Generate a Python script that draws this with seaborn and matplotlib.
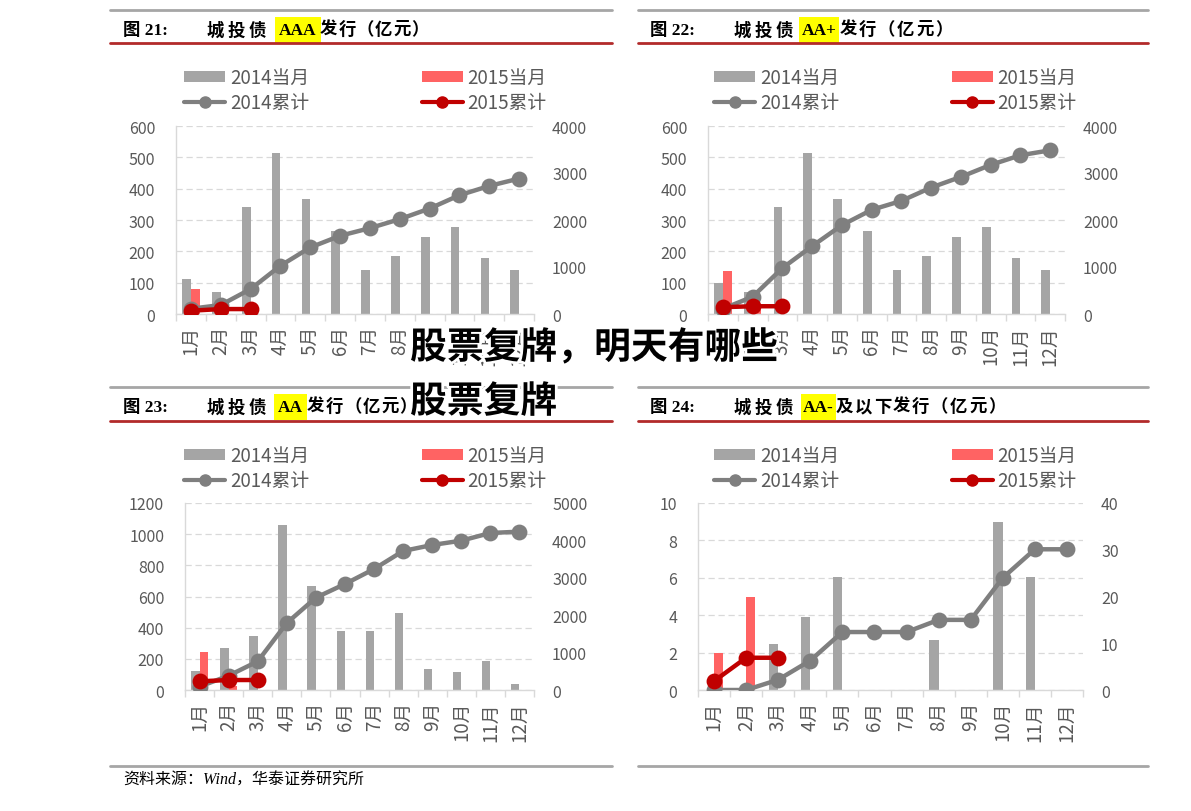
import numpy as np
import pandas as pd
import matplotlib
matplotlib.use("Agg")
import matplotlib.pyplot as plt
import seaborn as sns
from matplotlib.patches import Patch, Rectangle
from matplotlib.lines import Line2D
import matplotlib.patheffects as pe

# ---------------- data ----------------
months = ["1月", "2月", "3月", "4月", "5月", "6月", "7月", "8月", "9月", "10月", "11月", "12月"]
years = ["2014", "2015"]

aaa_2014_month = [112, 69, 342, 513, 366, 264, 140, 184, 246, 279, 178, 140]
aaa_2015_month = [79, 30, 0]
aaa_2014_cum = [112, 191, 531, 1027, 1416, 1664, 1827, 2018, 2244, 2527, 2725, 2881]
aaa_2015_cum = [70, 105, 105]

aap_2014_month = [98, 69, 342, 513, 366, 264, 140, 184, 246, 279, 178, 140]
aap_2015_month = [136, 22, 0]
aap_2014_cum = [110, 368, 977, 1444, 1890, 2216, 2407, 2690, 2917, 3172, 3377, 3483]
aap_2015_cum = [145, 165, 165]

aa_2014_month = [124, 270, 347, 1061, 665, 376, 376, 492, 135, 118, 184, 38]
aa_2015_month = [242, 28, 0]
aa_2014_cum = [90, 383, 766, 1791, 2469, 2834, 3235, 3717, 3877, 3993, 4198, 4234]
aa_2015_cum = [232, 267, 267]

aam_2014_month = [0, 0, 2.44, 3.88, 6.03, 0, 0, 2.69, 0, 9.0, 6.03, 0]
aam_2015_month = [1.96, 5.0, 0]
aam_2014_cum = [0, 0, 2.2, 6.3, 12.4, 12.4, 12.4, 15.0, 15.0, 24.0, 30.1, 30.1]
aam_2015_cum = [1.9, 6.9, 6.9]

legend_labels = ["2014当月", "2014累计", "2015当月", "2015累计"]

# ---------------- style ----------------
W, H = 1191, 812
GREY_BAR = "#A5A5A5"
RED_BAR = "#FF6363"
GREY_LINE = "#7F7F7F"
RED_LINE = "#C00000"
TXT = "#595959"
GRID = "#D9D9D9"

sns.set_theme(style="white")
plt.rcParams["font.family"] = ["Noto Sans CJK SC", "DejaVu Sans"]
plt.rcParams["axes.unicode_minus"] = False

fig = plt.figure(figsize=(W / 100, H / 100), dpi=100)


def fx(x):
    return x / W


def fy(y):
    return 1 - y / H


def long_df(v14, v15):
    return pd.DataFrame({
        "month": months + months[:len(v15)],
        "year": [years[0]] * len(v14) + [years[1]] * len(v15),
        "value": list(v14) + list(v15),
    })


panels = [
    dict(m14=aaa_2014_month, m15=aaa_2015_month, c14=aaa_2014_cum, c15=aaa_2015_cum,
         lmax=600, lstep=100, rmax=4000, rstep=1000,
         rect=(176, 127, 534, 315), leg=(184, 68)),
    dict(m14=aap_2014_month, m15=aap_2015_month, c14=aap_2014_cum, c15=aap_2015_cum,
         lmax=600, lstep=100, rmax=4000, rstep=1000,
         rect=(708, 127, 1065, 315), leg=(714, 68)),
    dict(m14=aa_2014_month, m15=aa_2015_month, c14=aa_2014_cum, c15=aa_2015_cum,
         lmax=1200, lstep=200, rmax=5000, rstep=1000,
         rect=(185, 504, 534, 691), leg=(184, 446)),
    dict(m14=aam_2014_month, m15=aam_2015_month, c14=aam_2014_cum, c15=aam_2015_cum,
         lmax=10, lstep=2, rmax=40, rstep=10,
         rect=(698, 504, 1083, 691), leg=(714, 446)),
]

for p in panels:
    x0, y0, x1, y1 = p["rect"]
    ax = fig.add_axes([fx(x0), fy(y1), (x1 - x0) / W, (y1 - y0) / H])
    bars = long_df(p["m14"], p["m15"])
    sns.barplot(data=bars, x="month", y="value", hue="year", order=months,
                hue_order=years, palette={years[0]: GREY_BAR, years[1]: RED_BAR},
                width=0.58, saturation=1, linewidth=0, errorbar=None,
                legend=False, ax=ax)
    ax2 = ax.twinx()
    lines = long_df(p["c14"], p["c15"])
    sns.pointplot(data=lines, x="month", y="value", hue="year", order=months,
                  hue_order=years, palette={years[0]: GREY_LINE, years[1]: RED_LINE},
                  markers="o", linestyles="-", errorbar=None, legend=False,
                  markersize=9, linewidth=3.2, ax=ax2)

    ax.set_ylim(0, p["lmax"])
    ax.set_yticks(np.arange(0, p["lmax"] + p["lstep"] / 2, p["lstep"]))
    ax.set_yticklabels([f"{int(v)}" for v in ax.get_yticks()])
    ax2.set_ylim(0, p["rmax"])
    ax2.set_yticks(np.arange(0, p["rmax"] + p["rstep"] / 2, p["rstep"]))
    ax2.set_yticklabels([f"{int(v)}" for v in ax2.get_yticks()])
    ax.set_xlim(-0.5, len(months) - 0.5)
    for a in (ax, ax2):
        a.set_xlabel("")
        a.set_ylabel("")

    ax.set_axisbelow(True)
    ax.yaxis.grid(True, linestyle=(0, (5, 3)), color=GRID, linewidth=0.9)
    ax.xaxis.grid(False)
    ax2.grid(False)
    for s in ("top", "right"):
        ax.spines[s].set_visible(False)
    for s in ("left", "bottom"):
        ax.spines[s].set_color(GRID)
        ax.spines[s].set_linewidth(1)
    for s in ax2.spines.values():
        s.set_visible(False)

    ax.tick_params(axis="y", length=0, pad=15, labelsize=11.5, labelcolor=TXT)
    ax2.tick_params(axis="y", length=0, pad=13, labelsize=11.5, labelcolor=TXT)
    ax.set_xticks(np.arange(-0.5, len(months), 1), minor=True)
    ax.tick_params(axis="x", which="major", length=0, pad=8, labelsize=13.5,
                   labelcolor=TXT, labelrotation=90)
    ax.tick_params(axis="x", which="minor", bottom=True, length=5, width=1,
                   color=GRID, direction="out")

    handles = [
        Patch(facecolor=GREY_BAR, edgecolor="none"),
        Line2D([0], [0], color=GREY_LINE, lw=3, marker="o", ms=8),
        Patch(facecolor=RED_BAR, edgecolor="none"),
        Line2D([0], [0], color=RED_LINE, lw=3, marker="o", ms=8),
    ]
    lx, ly = p["leg"]
    ax.legend(handles, legend_labels, ncol=2, loc="upper left",
              bbox_to_anchor=(fx(lx), fy(ly)), bbox_transform=fig.transFigure,
              frameon=False, fontsize=13.5, handlelength=2.2, handleheight=0.55,
              handletextpad=0.25, columnspacing=6.0, labelspacing=0.2,
              borderpad=0, borderaxespad=0, labelcolor=TXT)

# ---------------- titles & decorations ----------------
TFONT = ["Liberation Serif", "Noto Sans CJK SC"]


def chars(x, y, s, step, **kw):
    for i, ch in enumerate(s):
        fig.text(fx(x + i * step), fy(y), ch, ha="left", va="center", **kw)


def title(x, y, num, hl, hl_box, rest, rest_x, rest_step):
    kw = dict(family=TFONT, fontsize=12.5, weight="bold", color="black")
    fig.text(fx(x), fy(y), num, ha="left", va="center", **kw)
    chars(x + 84, y, "城投债", 21, **kw)
    b0, b1 = hl_box
    fig.patches.append(Rectangle((fx(b0), fy(y + 13)), (b1 - b0) / W, 26 / H,
                                 transform=fig.transFigure, facecolor="#FFFF00",
                                 edgecolor="none", zorder=0))
    fig.text(fx((b0 + b1) / 2), fy(y), hl, ha="center", va="center", **kw)
    chars(rest_x, y, rest, rest_step, **kw)


title(123, 31, "图 21:", "AAA", (275, 321), "发行（亿元）", 320, 18.3)
title(650, 31, "图 22:", "AA+", (799, 839), "发行（亿元）", 840, 19)
title(123, 408, "图 23:", "AA", (274, 307), "发行（亿元）", 307, 18.5)
title(650, 408, "图 24:", "AA-", (801, 836), "及以下发行（亿元）", 836, 19)

for (xa, xb) in ((110, 612), (638, 1148)):
    for yy, col in ((11, "#A6A6A6"), (388, "#A6A6A6"), (767, "#A6A6A6")):
        fig.add_artist(Line2D([fx(xa), fx(xb)], [fy(yy)] * 2, color=col, lw=2))
    for yy in (44, 422):
        fig.add_artist(Line2D([fx(xa), fx(xb)], [fy(yy)] * 2, color="#B22A2A", lw=2))

fig.text(fx(123), fy(781), "资料来源：Wind，华泰证券研究所", family=TFONT,
         style="italic", fontsize=11.5, color="black", ha="left", va="center")

wm = dict(fontsize=26.5, weight="black", color="black", ha="left", va="center",
          zorder=20, path_effects=[pe.withStroke(linewidth=4, foreground="white")])
fig.text(fx(410), fy(349), "股票复牌，明天有哪些", **wm)
fig.text(fx(410), fy(403), "股票复牌", **wm)

fig.savefig("out.png", dpi=100)
